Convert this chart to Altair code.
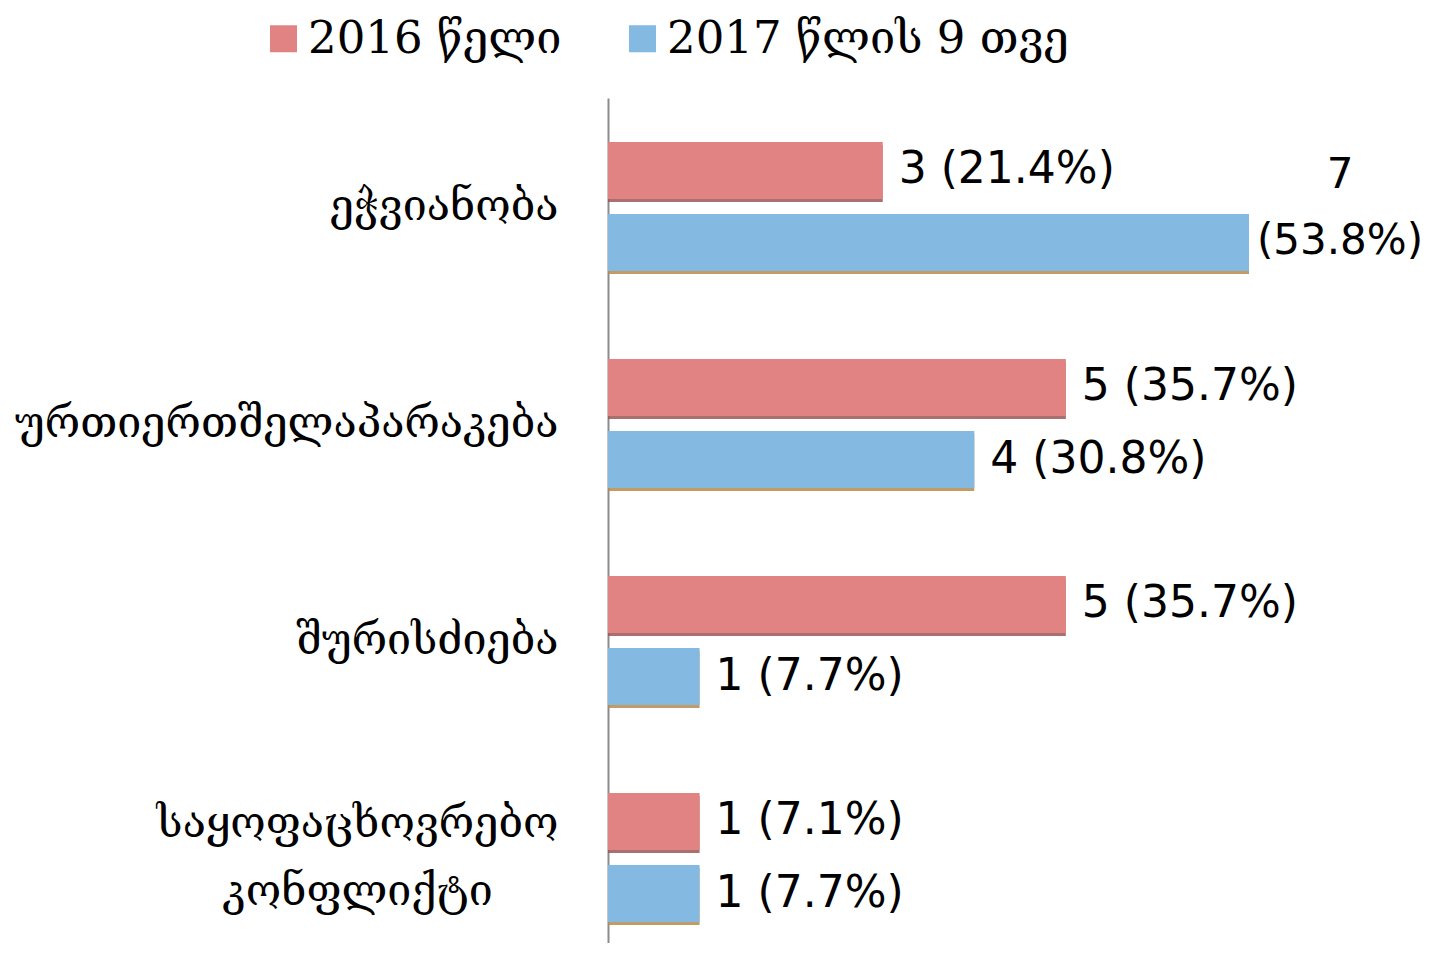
import altair as alt
import pandas as pd

categories = ["ეჭვიანობა", "ურთიერთშელაპარაკება", "შურისძიება", "საყოფაცხოვრებო კონფლიქტი"]
series = ["2016 წელი", "2017 წლის 9 თვე"]
values_2016 = [3, 5, 5, 1]
values_2017 = [7, 4, 1, 1]
pct_2016 = [21.4, 35.7, 35.7, 7.1]
pct_2017 = [53.8, 30.8, 7.7, 7.7]
colors = ["#E28383", "#84B9E1"]
shadow_colors = ["#9A5757", "#B98A4C"]

rows = []
for s, vals, pcts in [(series[0], values_2016, pct_2016), (series[1], values_2017, pct_2017)]:
    for c, v, p in zip(categories, vals, pcts):
        rows.append({"category": c, "series": s, "value": v, "label": f"{v} ({p}%)",
                     "label2": f"{v}\n({p}%)"})
df = pd.DataFrame(rows)

multi = "indexof(datum.label, ' ') >= 0"
y_enc = alt.Y("category:N", sort=categories,
              scale=alt.Scale(range=[0, 868], paddingInner=0.405, paddingOuter=0.2025),
              axis=alt.Axis(title=None, domain=True, domainColor="#8c8c8c", domainWidth=2,
                            ticks=False, grid=False, labelFont="DejaVu Serif", labelFontSize=43,
                            labelColor="#000000", labelLimit=0,
                            labelLineHeight=68, labelExpr="split(datum.label, ' ')",
                            labelPadding={"condition": {"test": multi, "value": 251}, "value": 50},
                            labelAlign={"condition": {"test": multi, "value": "center"}, "value": "right"},
                            labelOffset={"condition": {"test": multi, "value": -34}, "value": 0}))
yoff = alt.YOffset("series:N", sort=series, scale=alt.Scale(paddingInner=0.21, paddingOuter=0))
yoff_shadow = alt.YOffset("series:N", sort=series,
                          scale=alt.Scale(paddingInner=0.2932, paddingOuter=0.0416, align=1))
x_enc = alt.X("value:Q", scale=alt.Scale(domain=[0, 8.9]), axis=None)

shadow = alt.Chart(df).mark_bar(height=57, opacity=0.85).encode(
    y=y_enc, yOffset=yoff_shadow, x=x_enc,
    color=alt.Color("series:N", sort=series, scale=alt.Scale(domain=series, range=shadow_colors),
                    legend=None)
)

base = alt.Chart(df).encode(y=y_enc, yOffset=yoff, x=x_enc)

bars = base.mark_bar(height=57).encode(
    color=alt.Color("series:N", sort=series, scale=alt.Scale(domain=series, range=colors),
                    legend=alt.Legend(title=None, orient="none", legendX=-347, legendY=-82,
                                      direction="horizontal", symbolType="square",
                                      symbolSize=730, symbolStrokeWidth=0, labelFont="DejaVu Serif",
                                      labelFontSize=45, labelColor="#000000", labelOffset=2,
                                      labelLimit=0, columnPadding=58, padding=0))
)

labels = base.transform_filter("datum.value < 7").mark_text(
    align="left", baseline="middle", dx=16, font="DejaVu Sans", fontSize=44, color="#000000"
).encode(text="label:N")

labels_wrap = base.transform_filter("datum.value >= 7").mark_text(
    align="center", baseline="middle", dx=91, dy=-68, lineHeight=66, lineBreak="\n",
    font="DejaVu Sans", fontSize=42, color="#000000"
).encode(text="label2:N")

front = alt.layer(bars, labels, labels_wrap)

chart = alt.layer(shadow, front).resolve_scale(
    color="independent", yOffset="independent"
).properties(
    width=815, height=845,
    autosize=alt.AutoSizeParams(type="none"),
    padding={"left": 600, "top": 90, "right": 0, "bottom": 0},
).configure(background="#ffffff").configure_view(stroke=None)

chart.save("out.html", embed_options={"renderer": "svg", "actions": False})
